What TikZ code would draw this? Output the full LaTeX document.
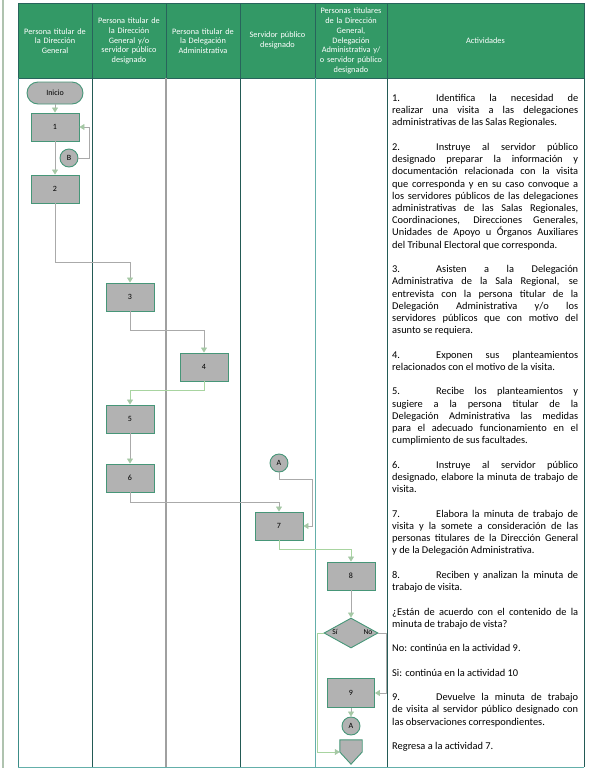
\documentclass[tikz,border=0pt]{standalone}
\usepackage{fontspec}
\setmainfont{Carlito}
\usetikzlibrary{arrows.meta,shapes.geometric}
\definecolor{hdrgreen}{RGB}{51,153,102}
\definecolor{hdrline}{RGB}{40,100,92}
\definecolor{boxfill}{RGB}{178,178,178}
\definecolor{boxdraw}{RGB}{70,150,120}
\definecolor{lgray}{RGB}{170,170,170}
\definecolor{lgreen}{RGB}{168,212,160}
\definecolor{arrowc}{RGB}{165,200,165}
\definecolor{laneA}{RGB}{60,140,135}
\definecolor{laneB}{RGB}{35,90,85}
\definecolor{laneC}{RGB}{160,160,160}
\definecolor{laneD}{RGB}{100,175,170}
\definecolor{outerl}{RGB}{175,195,175}
\newcommand{\itm}[1]{\makebox[44pt][l]{#1}}
\begin{document}
\begin{tikzpicture}[x=1pt,y=-1pt,
  proc/.style={draw=boxdraw, line width=0.9pt, fill=boxfill, minimum width=48pt, minimum height=28pt, inner sep=0pt, font=\fontsize{8}{9}\selectfont},
  conn/.style={circle, draw=boxdraw, line width=0.9pt, fill=boxfill, minimum size=18pt, inner sep=0pt, font=\fontsize{8}{9}\selectfont},
  flow/.style={draw=lgray, line width=0.8pt, -{Triangle[width=6pt,length=5pt,color=arrowc]}},
  flowg/.style={flow, draw=lgreen},
  hdr/.style={text=white, align=center, font=\fontsize{8.3}{9.8}\selectfont, text width=72pt, inner sep=0pt},
  lbl/.style={font=\fontsize{7.5}{8}\selectfont, inner sep=0pt}
]
\useasboundingbox (0,0) rectangle (590,772);
% outer left line
\draw[outerl, line width=1.5pt] (3,0) -- (3,768);
% header
\fill[hdrgreen] (18,3) rectangle (584,78);
\draw[hdrline, line width=0.9pt] (18,3) rectangle (584,78);
\foreach \x in {92,166,240,315,387} \draw[hdrline, line width=0.9pt] (\x,3) -- (\x,78);
% lane lines
\draw[laneA, line width=1pt] (18,78) -- (18,767);
\draw[laneB, line width=1pt] (92,78) -- (92,767);
\draw[laneC, line width=1.6pt] (166,78) -- (166,767);
\draw[laneB, line width=1pt] (240,78) -- (240,767);
\draw[laneD, line width=1pt] (315,78) -- (315,767);
\draw[laneB, line width=1pt] (387,78) -- (387,767);
\draw[laneB, line width=1pt] (584,78) -- (584,767);
\draw[laneD, line width=1pt] (18,767) -- (584,767);
% header texts
\node[hdr] (h1) at (55,41) {Persona titular de\\la Dirección\\General};
\node[hdr] (h2) at (129,41) {Persona titular de\\la Dirección\\General y/o\\servidor público\\designado};
\node[hdr] (h3) at (203,41) {Persona titular de\\la Delegación\\Administrativa};
\node[hdr] (h4) at (277.5,40) {Servidor público\\designado};
\node[hdr] (h5) at (351,41) {Personas titulares\\de la Dirección\\General,\\Delegación\\Administrativa y/\\o servidor público\\designado};
\node[hdr, text width=190pt] (h6) at (485.5,41) {Actividades};
% flow nodes
\node[draw=boxdraw, line width=0.9pt, fill=boxfill, rounded corners=11pt, minimum width=56pt, minimum height=22pt, inner sep=0pt, font=\fontsize{8}{9}\selectfont] (ini) at (55,93) {Inicio};
\node[proc] (n1) at (55,127) {1};
\node[conn] (b) at (69,158) {B};
\node[proc] (n2) at (55,189) {2};
\node[proc] (n3) at (130,297) {3};
\node[proc] (n4) at (204,367) {4};
\node[proc] (n5) at (130,419) {5};
\node[proc] (n6) at (130,478) {6};
\node[conn] (a1) at (279,463) {A};
\node[proc] (n7) at (279,526) {7};
\node[proc] (n8) at (351,576) {8};
\node[diamond, draw=boxdraw, line width=0.9pt, fill=boxfill, minimum width=54pt, minimum height=30pt, inner sep=0pt] (dia) at (351,633) {};
\node[lbl] (si) at (335,632) {Sí};
\node[lbl] (no) at (368,632) {No};
\node[proc, minimum width=47pt, minimum height=29pt] (n9) at (351,693) {9};
\node[conn] (a2) at (351,726) {A};
\node[minimum width=22pt, minimum height=24pt, inner sep=0pt] (off) at (351,752) {};
\draw[draw=boxdraw, line width=0.9pt, fill=boxfill, line join=miter]
  (off.north west) -- (off.north east) -- (off.east) -- (off.south) -- (off.west) -- cycle;
% connectors
\draw[flow] (ini) -- (n1);
\draw[flow] (b.east) -- ++(11,0) |- (n1.east);
\draw[flow] (n1) -- (n2);
\draw[flow] (n2.south) -- ++(0,59) -| (n3.north);
\draw[flow] (n3.south) -- ++(0,19) -| (n4.north);
\draw[flowg] (n4.south) -- ++(0,9) -| (n5.north);
\draw[flow] (n5) -- (n6);
\draw[flow] (n6.south) -- ++(0,10) -| (n7.north);
\draw[flow] (a1.south) -- ++(0,7) -- ++(33,0) |- (n7.east);
\draw[flowg] (n7.south) -- ++(0,9) -| (n8.north);
\draw[flow] (n8) -- (dia);
\draw[flow] (dia.east) -- ++(8,0) |- (n9.east);
\draw[flowg] (dia.west) -- ++(-6,0) |- (off.west);
\draw[flow] (n9) -- (a2);
% activities
\node[anchor=north west, text width=186pt, align=justify, inner sep=0pt, font=\fontsize{10.4}{12.23}\selectfont] (act) at (392,94) {%
\setlength{\parskip}{12.23pt}\tolerance=10000\hyphenpenalty=10000\hbadness=10000%
\itm{1.}Identifica la necesidad de\linebreak realizar una visita a las delegaciones\linebreak administrativas de las Salas Regionales.\par
\itm{2.}Instruye al servidor público\linebreak designado preparar la información y\linebreak documentación relacionada con la visita\linebreak que corresponda y en su caso convoque a\linebreak los servidores públicos de las delegaciones\linebreak administrativas de las Salas Regionales,\linebreak Coordinaciones, Direcciones Generales,\linebreak Unidades de Apoyo u Órganos Auxiliares\linebreak del Tribunal Electoral que corresponda.\par
\itm{3.}Asisten a la Delegación\linebreak Administrativa de la Sala Regional, se\linebreak entrevista con la persona titular de la\linebreak Delegación Administrativa y/o los\linebreak servidores públicos que con motivo del\linebreak asunto se requiera.\par
\itm{4.}Exponen sus planteamientos\linebreak relacionados con el motivo de la visita.\par
\itm{5.}Recibe los planteamientos y\linebreak sugiere a la persona titular de la\linebreak Delegación Administrativa las medidas\linebreak para el adecuado funcionamiento en el\linebreak cumplimiento de sus facultades.\par
\itm{6.}Instruye al servidor público\linebreak designado, elabore la minuta de trabajo de\linebreak visita.\par
\itm{7.}Elabora la minuta de trabajo de\linebreak visita y la somete a consideración de las\linebreak personas titulares de la Dirección General\linebreak y de la Delegación Administrativa.\par
\itm{8.}Reciben y analizan la minuta de\linebreak trabajo de visita.\par
¿Están de acuerdo con el contenido de la\linebreak minuta de trabajo de vista?\par
No: continúa en la actividad 9.\par
Si: continúa en la actividad 10\par
\itm{9.}Devuelve la minuta de trabajo\linebreak de visita al servidor público designado con\linebreak las observaciones correspondientes.\par
Regresa a la actividad 7.};
\end{tikzpicture}
\end{document}
